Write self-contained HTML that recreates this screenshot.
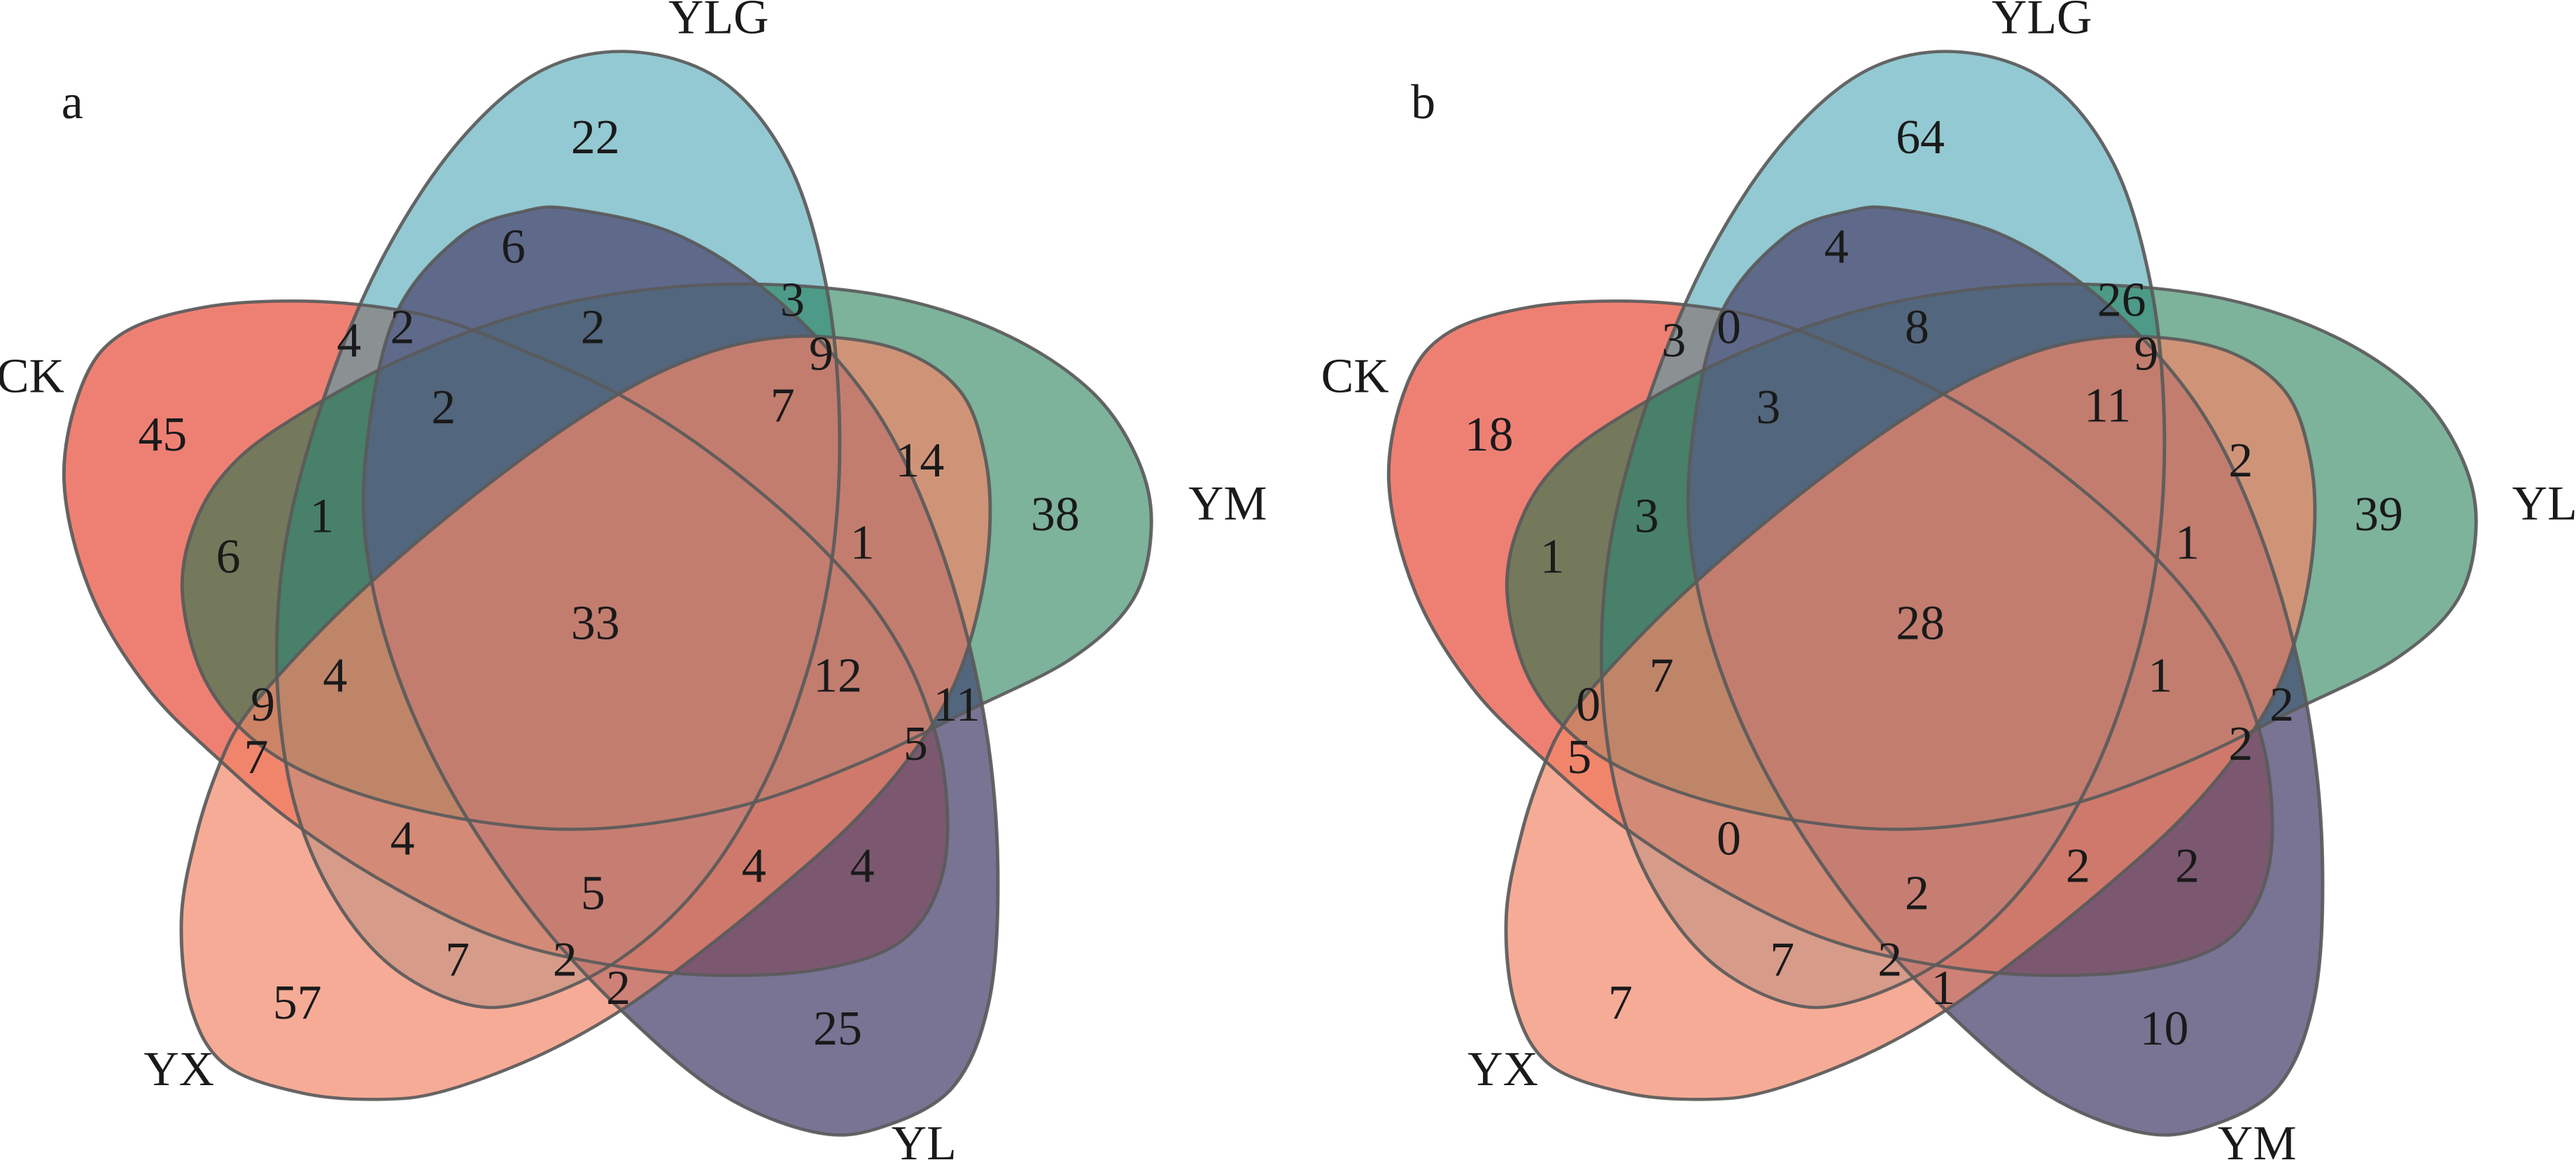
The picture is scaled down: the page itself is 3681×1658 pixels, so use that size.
<!DOCTYPE html>
<html><head><meta charset="utf-8"><style>
html,body{margin:0;padding:0;background:#fff;}
svg{display:block;}
text{font-family:"Liberation Serif","Times New Roman","DejaVu Serif",serif;font-size:66px;fill:#1a1a1a;text-anchor:middle;transform-box:fill-box;transform-origin:center;transform:scaleX(0.901);}
.f{stroke:none;}
.k{fill:none;stroke:#5a5a5a;stroke-width:4.2;stroke-opacity:0.92;}
</style></head><body>
<svg id="v" xmlns="http://www.w3.org/2000/svg" width="3681" height="1658" viewBox="0 0 3681 1658">
<defs id="defs"></defs>
<rect width="3681" height="1658" fill="#fff"/>
<g transform="scale(1.1735,1.0574)" id="ga"></g>
<g transform="translate(1893,0) scale(1.1735,1.0574)" id="gb"></g>
<g transform="scale(1.1735,1.0574)">
<text x="875" y="45">YLG</text><text x="88" y="160">a</text>
<text x="37" y="530">CK</text><text x="1495" y="702">YM</text><text x="218" y="1467">YX</text><text x="1125" y="1567">YL</text>
<text x="725" y="207">22</text><text x="625" y="355">6</text><text x="965" y="427">3</text><text x="425" y="482">4</text><text x="490" y="464">2</text><text x="722" y="464">2</text><text x="1000" y="500">9</text><text x="540" y="572">2</text><text x="953" y="570">7</text><text x="198" y="609">45</text><text x="1120" y="644">14</text><text x="1285" y="717">38</text><text x="392" y="719">1</text><text x="1050" y="755">1</text><text x="278" y="774">6</text><text x="725" y="864">33</text><text x="408" y="935">4</text><text x="1020" y="935">12</text><text x="320" y="974">9</text><text x="1165" y="974">11</text><text x="312" y="1045">7</text><text x="1115" y="1027">5</text><text x="490" y="1155">4</text><text x="918" y="1192">4</text><text x="1050" y="1192">4</text><text x="722" y="1229">5</text><text x="557" y="1319">7</text><text x="688" y="1319">2</text><text x="753" y="1357">2</text><text x="362" y="1377">57</text><text x="1020" y="1412">25</text>
</g>
<g transform="translate(1840,0) scale(1.174,1.0574)">
<text x="918" y="45">YLG</text><text x="165" y="160">b</text>
<text x="82" y="530">CK</text><text x="1530" y="702">YL</text><text x="262" y="1467">YX</text><text x="1180" y="1567">YM</text>
<text x="770" y="207">64</text><text x="668" y="355">4</text><text x="1015" y="427">26</text><text x="470" y="482">3</text><text x="537" y="464">0</text><text x="766" y="464">8</text><text x="1045" y="500">9</text><text x="585" y="572">3</text><text x="998" y="570">11</text><text x="245" y="609">18</text><text x="1160" y="644">2</text><text x="1328" y="717">39</text><text x="437" y="719">3</text><text x="1095" y="755">1</text><text x="322" y="774">1</text><text x="770" y="864">28</text><text x="455" y="935">7</text><text x="1062" y="935">1</text><text x="366" y="974">0</text><text x="1210" y="974">2</text><text x="355" y="1045">5</text><text x="1160" y="1027">2</text><text x="537" y="1155">0</text><text x="962" y="1192">2</text><text x="1095" y="1192">2</text><text x="766" y="1229">2</text><text x="602" y="1319">7</text><text x="733" y="1319">2</text><text x="798" y="1357">1</text><text x="405" y="1377">7</text><text x="1067" y="1412">10</text>
</g>
</svg>
<script>
var CK=[[78,650],[100,520],[150,450],[250,415],[370,407],[480,418],[560,440],[650,480],[740,525],[830,585],[920,660],[1000,740],[1070,830],[1120,930],[1150,1050],[1148,1180],[1100,1270],[1000,1310],[860,1318],[720,1300],[600,1265],[480,1200],[362,1116],[269,1029],[180,930],[110,800]];
var YLG=[[770,70],[880,110],[960,220],[1005,380],[1022,560],[1015,740],[985,900],[930,1060],[850,1200],[750,1300],[640,1355],[560,1355],[470,1300],[400,1200],[355,1070],[337,900],[350,720],[400,520],[470,340],[560,190],[660,95]];
var YM=[[222,800],[240,700],[290,620],[380,550],[500,480],[650,420],[800,390],[950,385],[1100,405],[1230,455],[1330,530],[1385,620],[1402,710],[1380,810],[1305,890],[1180,960],[1050,1030],[900,1090],[730,1120],[580,1110],[430,1070],[320,1010],[250,920]];
var YL=[[700,283],[820,315],[930,390],[1030,500],[1100,620],[1160,790],[1200,980],[1215,1170],[1205,1350],[1160,1470],[1070,1525],[990,1530],[880,1480],[770,1380],[660,1250],[560,1090],[490,930],[450,770],[445,620],[480,430],[560,320],[640,285]];
var YX=[[221,1240],[240,1125],[269,1029],[297,970],[350,900],[420,820],[500,740],[600,650],[700,570],[800,505],[900,465],[1000,455],[1100,475],[1170,530],[1200,620],[1205,720],[1190,830],[1160,930],[1110,1020],[1040,1110],[950,1200],[850,1290],[750,1370],[650,1430],[540,1475],[465,1486],[370,1478],[275,1440],[232,1360]];
function cr(p){var n=p.length,d="M"+p[0][0]+","+p[0][1];
for(var i=0;i<n;i++){var p0=p[(i-1+n)%n],p1=p[i],p2=p[(i+1)%n],p3=p[(i+2)%n];
d+=" C"+(p1[0]+(p2[0]-p0[0])/6).toFixed(1)+","+(p1[1]+(p2[1]-p0[1])/6).toFixed(1)+" "+(p2[0]-(p3[0]-p1[0])/6).toFixed(1)+","+(p2[1]-(p3[1]-p1[1])/6).toFixed(1)+" "+p2[0]+","+p2[1];}
return d+"Z";}
var NS="http://www.w3.org/2000/svg";
var defs=document.getElementById("defs");
var cp=document.createElementNS(NS,"clipPath");cp.setAttribute("id","clYL");
var cpp=document.createElementNS(NS,"path");cpp.setAttribute("d",cr(YL));cp.appendChild(cpp);defs.appendChild(cp);
function P(g,pts,fill,op,cls,clip){var e=document.createElementNS(NS,"path");e.setAttribute("d",cr(pts));
if(fill){e.setAttribute("fill",fill);e.setAttribute("fill-opacity",op);}
e.setAttribute("class",cls);if(clip)e.setAttribute("clip-path","url(#clYL)");g.appendChild(e);}
["ga","gb"].forEach(function(id){var g=document.getElementById(id);
P(g,CK,"rgb(224,24,0)",0.55,"f");
P(g,YLG,"rgb(59,157,173)",0.55,"f");
P(g,YM,"rgb(19,115,73)",0.55,"f");
P(g,YL,"rgb(11,0,60)",0.55,"f");
P(g,CK,"rgb(123,88,112)",1,"f",true);
P(g,YLG,"rgb(95,106,139)",1,"f",true);
P(g,YM,"rgb(82,102,125)",1,"f",true);
P(g,YX,"rgb(242,136,105)",0.7,"f");
[CK,YLG,YM,YL,YX].forEach(function(s){P(g,s,null,0,"k");});
});
</script>
</body></html>
